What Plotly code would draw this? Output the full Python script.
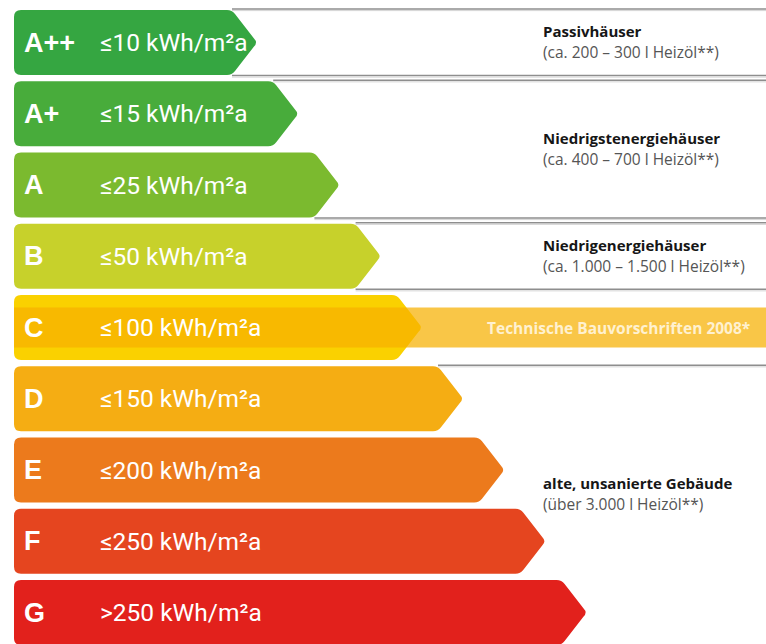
import plotly.graph_objects as go

# ---------------- data ----------------
classes = ["A++", "A+", "A", "B", "C", "D", "E", "F", "G"]
limits = ["≤10", "≤15", "≤25", "≤50", "≤100", "≤150", "≤200", "≤250", ">250"]
unit = "kWh/m²a"

group_titles = ["Passivhäuser", "Niedrigstenergiehäuser", "Niedrigenergiehäuser",
                "alte, unsanierte Gebäude"]
group_notes = ["(ca. 200 – 300 l Heizöl**)", "(ca. 400 – 700 l Heizöl**)",
               "(ca. 1.000 – 1.500 l Heizöl**)", "(über 3.000 l Heizöl**)"]
group_members = [["A++"], ["A+", "A"], ["B"], ["D", "E", "F", "G"]]
group_closed = [True, True, True, False]

band_class = "C"
band_label = "Technische Bauvorschriften 2008*"

# ---------------- style ----------------
class_colors = ["#35a641", "#48ac3b", "#7bba2f", "#c7d12b", "#fad100",
                "#f5ad13", "#ec7a1c", "#e5451f", "#e2211c"]
W, H = 766, 644
TOP, PITCH, ROW_H = 10, 71.25, 65
X0, TIP0, TIP_STEP, DEPTH, R = 14, 258, 41.2, 28, 7
LETTER_X, VALUE_X, GROUP_X = 22, 98, 541


def row_top(i):
    return TOP + PITCH * i


def tip_x(i):
    return TIP0 + TIP_STEP * i


def arrow_path(i):
    t = row_top(i)
    b = t + ROW_H
    m = (t + b) / 2
    xt = tip_x(i)
    xb = xt - DEPTH
    e = 4
    return (f"M {X0 + R},{t} L {xb - 3},{t} Q {xb + 2},{t} {xb + 5},{t + 4} "
            f"L {xt - e},{m - e} Q {xt},{m} {xt - e},{m + e} "
            f"L {xb + 5},{b - 4} Q {xb + 2},{b} {xb - 3},{b} "
            f"L {X0 + R},{b} Q {X0},{b} {X0},{b - R} L {X0},{t + R} "
            f"Q {X0},{t} {X0 + R},{t} Z")


fig = go.Figure()
# invisible trace to activate axes
fig.add_trace(go.Scatter(x=[0, W], y=[0, H], mode="markers",
                         marker=dict(opacity=0), hoverinfo="skip", showlegend=False))

shapes = []
annotations = []


def sep_line(x0, y):
    shapes.append(dict(type="line", xref="x", yref="y", x0=x0, x1=W, y0=y, y1=y,
                       line=dict(color="#8e8e8e", width=1.6), layer="below"))
    shapes.append(dict(type="line", xref="x", yref="y", x0=x0, x1=W, y0=y + 1.6, y1=y + 1.6,
                       line=dict(color="#d4d4d4", width=1), layer="below"))


# group separator lines and texts
for title, note, members, closed in zip(group_titles, group_notes, group_members, group_closed):
    idx = [classes.index(c) for c in members]
    first, last = min(idx), max(idx)
    ytop = row_top(first) - 1
    ybot = row_top(last) + ROW_H + 0.5
    sep_line(tip_x(first) - DEPTH + 2, ytop)
    if closed:
        sep_line(tip_x(last) - DEPTH + 2, ybot)
        yc = (ytop + ybot) / 2
    else:
        yc = row_top(first) + 128
    annotations.append(dict(x=GROUP_X, y=yc - 11, xref="x", yref="y", text=f"<b>{title}</b>",
                            showarrow=False, xanchor="left", yanchor="middle",
                            font=dict(family="Open Sans", size=15, color="#161616")))
    annotations.append(dict(x=GROUP_X, y=yc + 10, xref="x", yref="y", text=note,
                            showarrow=False, xanchor="left", yanchor="middle",
                            font=dict(family="Open Sans", size=15.5, color="#555555")))

# arrows
for i, (cls, lim, col) in enumerate(zip(classes, limits, class_colors)):
    shapes.append(dict(type="path", xref="x", yref="y", path=arrow_path(i),
                       fillcolor=col, line=dict(width=0), layer="above"))
    yc = row_top(i) + ROW_H / 2
    annotations.append(dict(x=LETTER_X, y=yc, xref="x", yref="y", text=f"<b>{cls}</b>",
                            showarrow=False, xanchor="left", yanchor="middle",
                            font=dict(family="Liberation Sans", size=27, color="#ffffff")))
    annotations.append(dict(x=VALUE_X, y=yc, xref="x", yref="y", text=f"{lim} {unit}",
                            showarrow=False, xanchor="left", yanchor="middle",
                            font=dict(family="Roboto", size=24.5, color="#ffffff")))

# band through class C
bi = classes.index(band_class)
bc = row_top(bi) + ROW_H / 2
shapes.append(dict(type="rect", xref="x", yref="y", x0=X0, x1=W, y0=bc - 20, y1=bc + 20,
                   fillcolor="rgba(246,176,0,0.72)", line=dict(width=0), layer="above"))
annotations.append(dict(x=(tip_x(bi) + W) / 2 + 24, y=bc, xref="x", yref="y",
                        text=f"<b>{band_label}</b>", showarrow=False,
                        xanchor="center", yanchor="middle",
                        font=dict(family="Open Sans", size=15.5, color="#fff1d0")))

fig.update_layout(
    width=W, height=H,
    margin=dict(l=0, r=0, t=0, b=0),
    paper_bgcolor="white", plot_bgcolor="white",
    xaxis=dict(range=[0, W], visible=False, fixedrange=True),
    yaxis=dict(range=[H, 0], visible=False, fixedrange=True),
    shapes=shapes, annotations=annotations, showlegend=False,
)

fig.write_html("out.html", config={"displayModeBar": False},
               post_script="document.body.style.margin='0px';")
